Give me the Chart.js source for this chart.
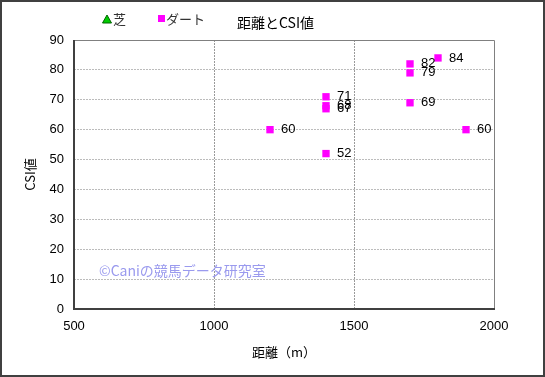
<!DOCTYPE html>
<html><head><meta charset="utf-8">
<script src="https://cdn.jsdelivr.net/npm/chart.js@4"></script>
<style>html,body{margin:0;padding:0;background:#fff}#w{width:545px;height:377px}</style>
</head><body><div id="w"><canvas id="c" width="545" height="377"></canvas></div>
<script>
const chartTitle = '距離とCSI値';
const xTitle = '距離（m）';
const yTitle = 'CSI値';
const watermark = '©Caniの競馬データ研究室';
const turfDistance = [];
const turfCSI = [];
const dirtDistance = [1200, 1400, 1400, 1400, 1400, 1700, 1700, 1700, 1800, 1900];
const dirtCSI = [60, 71, 68, 67, 52, 82, 79, 69, 84, 60];
const xTicks = [500, 1000, 1500, 2000];
const yTicks = [0, 10, 20, 30, 40, 50, 60, 70, 80, 90];

const FONT = '"Noto Sans CJK JP", "Liberation Sans", sans-serif';
const toPts = (xs, ys) => xs.map((x, i) => ({x, y: ys[i]}));

const deco = {
  id: 'deco',
  beforeDraw(chart) {
    const ctx = chart.ctx;
    ctx.save();
    ctx.fillStyle = '#fff';
    ctx.fillRect(0, 0, chart.width, chart.height);
    ctx.restore();
  },
  beforeDatasetsDraw(chart) {
    const ctx = chart.ctx;
    ctx.save();
    ctx.font = '14px ' + FONT;
    ctx.fillStyle = '#9a9aee';
    ctx.textBaseline = 'middle';
    ctx.textAlign = 'left';
    ctx.fillText(watermark, 99, 271);
    ctx.restore();
  },
  afterDatasetsDraw(chart) {
    const ctx = chart.ctx;
    ctx.save();
    ctx.font = '13px "Liberation Sans", sans-serif';
    ctx.fillStyle = '#000';
    ctx.textBaseline = 'middle';
    ctx.textAlign = 'left';
    chart.data.datasets.forEach((ds, di) => {
      const meta = chart.getDatasetMeta(di);
      meta.data.forEach((el, i) => {
        ctx.fillText(String(ds.data[i].y), el.x + 11, el.y);
      });
    });
    ctx.restore();
  },
  afterDraw(chart) {
    const ctx = chart.ctx, a = chart.chartArea;
    ctx.save();
    ctx.strokeStyle = '#808080';
    ctx.lineWidth = 1;
    ctx.beginPath();
    ctx.moveTo(a.left, a.top + 0.5); ctx.lineTo(a.right + 0.5, a.top + 0.5); ctx.lineTo(a.right + 0.5, a.bottom);
    ctx.stroke();
    ctx.strokeStyle = '#404040';
    ctx.lineWidth = 2;
    ctx.beginPath();
    ctx.moveTo(a.left, a.top); ctx.lineTo(a.left, a.bottom); ctx.lineTo(a.right + 1, a.bottom);
    ctx.stroke();
    // legend
    ctx.fillStyle = '#00cc00';
    ctx.strokeStyle = '#006600';
    ctx.lineWidth = 1;
    ctx.beginPath();
    ctx.moveTo(107, 15); ctx.lineTo(111.5, 23); ctx.lineTo(102.5, 23); ctx.closePath();
    ctx.fill(); ctx.stroke();
    ctx.fillStyle = '#ff00ff';
    ctx.fillRect(158, 15, 7, 7);
    ctx.font = '13px ' + FONT;
    ctx.fillStyle = '#333';
    ctx.textBaseline = 'middle';
    ctx.textAlign = 'left';
    ctx.fillText('芝', 113, 19);
    ctx.fillText('ダート', 166, 19);
    ctx.fillStyle = '#000';
    ctx.font = '14px ' + FONT;
    ctx.fillText(chartTitle, 237, 23);
    // axis titles
    ctx.font = '13px ' + FONT;
    ctx.textAlign = 'center';
    ctx.fillText(xTitle, (a.left + a.right) / 2, 352);
    ctx.save();
    ctx.translate(30, (a.top + a.bottom) / 2);
    ctx.rotate(-Math.PI / 2);
    ctx.fillText(yTitle, 0, 0);
    ctx.restore();
    // outer frame
    ctx.strokeStyle = '#404040';
    ctx.lineWidth = 2;
    ctx.strokeRect(1, 1, chart.width - 2, chart.height - 2);
    ctx.restore();
  }
};

new Chart(document.getElementById('c'), {
  type: 'scatter',
  data: {
    datasets: [
      {label: '芝', data: toPts(turfDistance, turfCSI), pointStyle: 'triangle', backgroundColor: '#00cc00', borderColor: '#006600', pointRadius: 5},
      {label: 'ダート', data: toPts(dirtDistance, dirtCSI), pointStyle: 'rect', backgroundColor: '#ff00ff', borderColor: '#ff00ff', borderWidth: 0, pointRadius: 5.2, pointHoverRadius: 5.2}
    ]
  },
  plugins: [deco],
  options: {
    responsive: false,
    animation: false,
    events: [],
    layout: {padding: {left: 0, right: 51, top: 40, bottom: 0}},
    plugins: {legend: {display: false}, title: {display: false}, tooltip: {enabled: false}},
    scales: {
      x: {
        type: 'linear', min: 500, max: 2000,
        afterBuildTicks: s => { s.ticks = xTicks.map(v => ({value: v})); },
        afterFit: s => { s.height = 68; },
        border: {display: false, dash: [2, 1]},
        grid: {color: '#9a9a9a', drawTicks: false, lineWidth: c => (c.tick.value === 500 || c.tick.value === 2000) ? 0 : 1},
        ticks: {color: '#000', font: {family: '"Liberation Sans", sans-serif', size: 13}, padding: 10, maxRotation: 0, callback: v => String(v)},
        title: {display: false}
      },
      y: {
        type: 'linear', min: 0, max: 90,
        afterBuildTicks: s => { s.ticks = yTicks.map(v => ({value: v})); },
        afterFit: s => { s.width = 74; },
        border: {display: false, dash: [2, 1]},
        grid: {color: '#bcbcbc', drawTicks: false, lineWidth: c => (c.tick.value === 0 || c.tick.value === 90) ? 0 : 1},
        ticks: {color: '#000', font: {family: '"Liberation Sans", sans-serif', size: 13}, padding: 10, callback: v => String(v)},
        title: {display: false}
      }
    }
  }
});
</script></body></html>
